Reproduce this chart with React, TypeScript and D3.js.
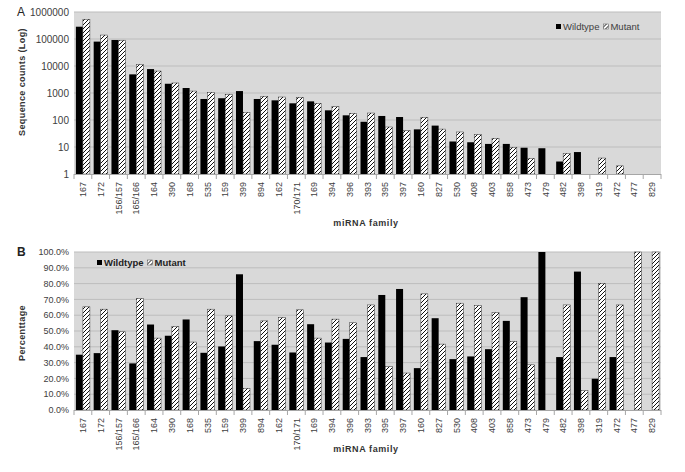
import React, { useEffect, useRef } from 'react';
import * as d3 from 'd3';

const families = [
  '167', '172', '156/157', '165/166', '164', '390', '168', '535', '159', '399', '894',
  '162', '170/171', '169', '394', '396', '393', '395', '397', '160', '827', '530',
  '408', '403', '858', '473', '479', '482', '398', '319', '472', '477', '829',
];

// panel A: sequence counts (0 = no reads)
const countWildtype = [
  285000, 80000, 92000, 4900, 7700, 2200, 1530, 600, 640, 1180, 600,
  535, 415, 490, 228, 149, 86, 141, 129, 45, 62, 16,
  15, 13, 13, 9.4, 9, 2.9, 6.5, 1, 1, 0, 0,
];
const countMutant = [
  537000, 140000, 90000, 11500, 6500, 2350, 1180, 1060, 900, 193, 755,
  710, 690, 415, 310, 177, 181, 55, 40, 126, 46, 36,
  29, 21, 9.7, 3.8, 0, 5.8, 1, 3.9, 2, 1, 1,
];

// panel B: share of reads
const pctWildtype = [
  0.35, 0.36, 0.505, 0.295, 0.541, 0.47, 0.573, 0.362, 0.402, 0.859, 0.436,
  0.413, 0.364, 0.543, 0.427, 0.45, 0.335, 0.728, 0.766, 0.265, 0.581, 0.322,
  0.339, 0.385, 0.564, 0.714, 1.0, 0.335, 0.876, 0.198, 0.335, 0, 0,
];
const pctMutant = [
  0.653, 0.638, 0.495, 0.705, 0.455, 0.528, 0.43, 0.638, 0.596, 0.137, 0.564,
  0.585, 0.634, 0.455, 0.575, 0.552, 0.665, 0.274, 0.234, 0.735, 0.417, 0.676,
  0.661, 0.617, 0.434, 0.286, 0, 0.665, 0.122, 0.802, 0.665, 1.0, 1.0,
];

const logTicks = [1, 10, 100, 1000, 10000, 100000, 1000000];
const pctTicks = [0, 0.1, 0.2, 0.3, 0.4, 0.5, 0.6, 0.7, 0.8, 0.9, 1.0];
const seriesNames = ['Wildtype', 'Mutant'];

const FONT = '"Liberation Sans", Arial, sans-serif';
const TEXT = '#404040';

const App = () => {
  const svgRef = useRef(null);

  useEffect(() => {
    const svg = d3.select(svgRef.current);
    svg.selectAll('*').remove();

    // diagonal hatch for the mutant bars
    const defs = svg.append('defs');
    const pat = defs.append('pattern')
      .attr('id', 'hatch')
      .attr('patternUnits', 'userSpaceOnUse')
      .attr('width', 4)
      .attr('height', 4);
    pat.append('rect').attr('width', 4).attr('height', 4).attr('fill', '#fff');
    pat.append('path')
      .attr('d', 'M-1,1 l2,-2 M0,4 l4,-4 M3,5 l2,-2')
      .attr('stroke', '#111')
      .attr('stroke-width', 1);

    const left = 74, right = 661;

    const drawPanel = (o) => {
      const g = svg.append('g');
      const x = d3.scaleBand().domain(families).range([left, right]);
      const inner = d3.scaleBand().domain(seriesNames).range([0, x.bandwidth()]).paddingOuter(0.27);

      g.append('rect')
        .attr('x', left).attr('y', o.top)
        .attr('width', right - left).attr('height', o.bottom - o.top)
        .attr('fill', '#d9d9d9');

      // gridlines + y labels
      o.ticks.forEach((t) => {
        const yy = o.y(t);
        if (t !== o.ticks[0]) {
          g.append('line')
            .attr('x1', left).attr('x2', right)
            .attr('y1', yy).attr('y2', yy)
            .attr('stroke', '#bdbdbd').attr('stroke-width', 1);
        }
        g.append('text')
          .attr('x', 69).attr('y', yy).attr('dy', '0.35em')
          .attr('text-anchor', 'end')
          .attr('font-family', FONT).attr('font-size', o.tickSize)
          .attr('fill', TEXT)
          .text(o.fmt(t));
      });

      // bars
      const series = [o.wt, o.mut];
      series.forEach((vals, si) => {
        g.selectAll(null)
          .data(families.map((f, i) => ({ f, v: vals[i] })).filter((d) => d.v > 0))
          .enter()
          .append('rect')
          .attr('x', (d) => x(d.f) + inner(seriesNames[si]))
          .attr('width', inner.bandwidth())
          .attr('y', (d) => o.y(d.v))
          .attr('height', (d) => Math.max(0, o.bottom - o.y(d.v)))
          .attr('fill', si === 0 ? '#000' : 'url(#hatch)')
          .attr('stroke', si === 0 ? 'none' : '#333')
          .attr('stroke-width', 0.5);
      });

      // x axis
      g.append('line')
        .attr('x1', left).attr('x2', right)
        .attr('y1', o.bottom + 0.5).attr('y2', o.bottom + 0.5)
        .attr('stroke', '#a6a6a6');
      g.selectAll(null)
        .data(d3.range(families.length + 1))
        .enter()
        .append('line')
        .attr('x1', (i) => left + i * x.step())
        .attr('x2', (i) => left + i * x.step())
        .attr('y1', o.bottom).attr('y2', o.bottom + 5)
        .attr('stroke', '#a6a6a6');
      g.selectAll(null)
        .data(families)
        .enter()
        .append('text')
        .attr('transform', (d) => `translate(${x(d) + x.bandwidth() / 2},${o.bottom + 8}) rotate(-90)`)
        .attr('dy', '0.35em')
        .attr('text-anchor', 'end')
        .attr('font-family', FONT).attr('font-size', 9)
        .attr('fill', TEXT)
        .text((d) => d);

      // titles
      g.append('text')
        .attr('x', 366).attr('y', o.xTitleY)
        .attr('text-anchor', 'middle')
        .attr('font-family', FONT).attr('font-size', 9).attr('font-weight', 'bold')
        .attr('letter-spacing', 0.6)
        .attr('fill', '#333')
        .text('miRNA  family');
      g.append('text')
        .attr('transform', `translate(22,${o.yTitleY}) rotate(-90)`)
        .attr('dy', '0.35em')
        .attr('text-anchor', 'middle')
        .attr('font-family', FONT).attr('font-size', 9).attr('font-weight', 'bold')
        .attr('letter-spacing', 0.4)
        .attr('fill', '#333')
        .text(o.yTitle);
      g.append('text')
        .attr('x', 17).attr('y', o.top).attr('dy', '0.35em')
        .attr('font-family', FONT).attr('font-size', 12)
        .attr('font-weight', o.letterBold ? 'bold' : 'normal')
        .attr('fill', '#222')
        .text(o.letter);

      // legend
      const lg = g.append('g').attr('transform', `translate(${o.legendX},${o.legendY})`);
      let cx = 0;
      seriesNames.forEach((name, si) => {
        lg.append('rect')
          .attr('x', cx).attr('y', -2.5)
          .attr('width', 5).attr('height', 5)
          .attr('fill', si === 0 ? '#000' : 'url(#hatch)')
          .attr('stroke', si === 0 ? 'none' : '#555').attr('stroke-width', 0.5);
        const t = lg.append('text')
          .attr('x', cx + 7).attr('y', 0).attr('dy', '0.35em')
          .attr('font-family', FONT).attr('font-size', o.legendSize)
          .attr('font-weight', o.legendBold ? 'bold' : 'normal')
          .attr('fill', o.legendBold ? '#222' : TEXT)
          .text(name);
        cx += 7 + t.node().getComputedTextLength() + 4;
      });
    };

    const yA = d3.scaleLog().domain([1, 1000000]).range([174, 12]);
    drawPanel({
      top: 12, bottom: 174, y: yA, ticks: logTicks, fmt: (t) => String(t), tickSize: 10,
      wt: countWildtype, mut: countMutant,
      xTitleY: 226, yTitle: 'Sequence counts (Log)', yTitleY: 82,
      letter: 'A', letterBold: false,
      legendX: 556, legendY: 26.5, legendSize: 9.5, legendBold: false,
    });

    const yB = d3.scaleLinear().domain([0, 1]).range([410, 252]);
    drawPanel({
      top: 252, bottom: 410, y: yB, ticks: pctTicks, fmt: d3.format('.1%'), tickSize: 9,
      wt: pctWildtype, mut: pctMutant,
      xTitleY: 452, yTitle: 'Percenttage', yTitleY: 333,
      letter: 'B', letterBold: true,
      legendX: 97, legendY: 262.5, legendSize: 9.5, legendBold: true,
    });
  }, []);

  return (
    <svg
      ref={svgRef}
      width={685}
      height={472}
      style={{ position: 'absolute', left: 0, top: 0, background: '#fff' }}
    />
  );
};

export default App;
